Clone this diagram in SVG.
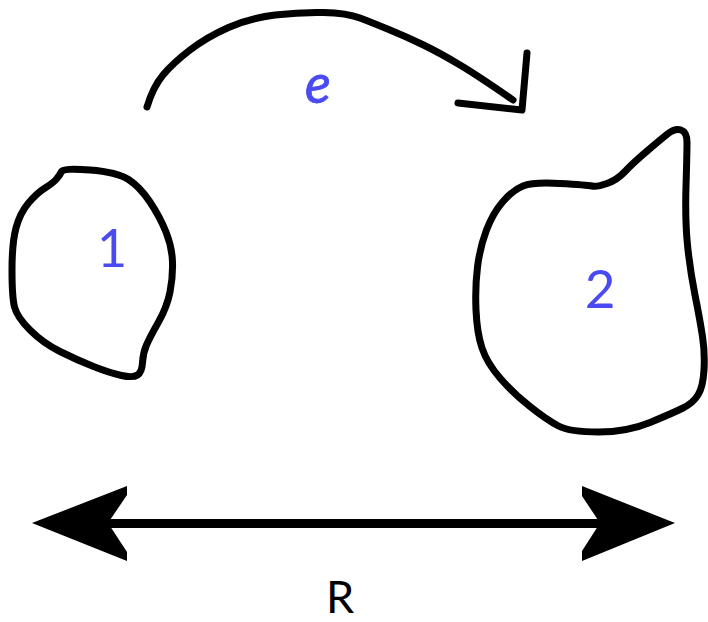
<svg xmlns="http://www.w3.org/2000/svg" width="708" height="622" viewBox="0 0 708 622">
<style>
.ink{fill:none;stroke:#000;stroke-width:7;stroke-linecap:round;stroke-linejoin:round}
.lbl{font-family:Lato,"Open Sans","Liberation Sans",sans-serif;fill:#4a4af2;text-anchor:middle}
</style>
<rect width="708" height="622" fill="#fff"/>
<g id="node1">
<path class="ink" d="M90,170 Q117,172 128.5,179.5 Q140,187 150,202 Q160,217 166,232 Q172,247 172.5,262 Q173,277 170,292 Q167,307 158.5,322 Q150,337 146.5,345 Q143,353 142.5,362.5 Q142,372 137.5,375 Q133,378 121.5,375.5 Q110,373 93.5,366.5 Q77,360 60,351.5 Q43,343 30,330 Q17,317 14.5,307 Q12,297 12,270 Q12,243 16,228 Q20,213 28.5,203 Q37,193 45,188 Q53,183 56.5,179 Q60,175 61.5,171.5 Q63,168 90,170 Z"/>
<text class="lbl" x="112" y="267" font-size="52">1</text>
</g>
<g id="node2">
<path class="ink" d="M560,183.5 Q587,185 592,186 Q597,187 607,183.5 Q617,180 625,171.5 Q633,163 646.5,151.5 Q660,140 667.5,134 Q675,128 681,130 Q687,132 687,142.5 Q687,153 686,186.5 Q685,220 687.5,245 Q690,270 695,295 Q700,320 702.5,336.5 Q705,353 704,370 Q703,387 698,395 Q693,403 683,408 Q673,413 650,422.5 Q627,432 598.5,432 Q570,432 558.5,426 Q547,420 530,406.5 Q513,393 500,378 Q487,363 482,348 Q477,333 476,310 Q475,287 477.5,267 Q480,247 486.5,230 Q493,213 503,201.5 Q513,190 523,186 Q533,182 560,183.5 Z"/>
<text class="lbl" x="600" y="308" font-size="53">2</text>
</g>
<g id="connectors">
<g id="transfer">
<path class="ink" d="M147,107 Q153,87 163,75 Q173,63 190,50 Q207,37 228.5,27.5 Q250,18 275,15 Q300,12 323.5,12.5 Q347,13 360,18 Q373,23 390,30 Q407,37 423.5,45 Q440,53 460,65 Q480,77 513,100"/>
<path class="ink" d="M458,103 L522,110 L527,53"/>
<text class="lbl" x="318" y="103" font-size="54" font-style="italic" stroke="#4a4af2" stroke-width="0.8">e</text>
</g>
<g id="distance">
<line x1="108" y1="523.5" x2="600" y2="523.5" stroke="#000" stroke-width="9"/>
<polygon points="32,523 127,486 127,495 108,523 127,552 127,561" fill="#000"/>
<polygon points="675,523 582,486 582,496 600,523 582,551 582,561" fill="#000"/>
<text x="340" y="613" font-size="45" font-family="Lato,'Open Sans','Liberation Sans',sans-serif" text-anchor="middle" fill="#000">R</text>
</g>
</g>
</svg>
